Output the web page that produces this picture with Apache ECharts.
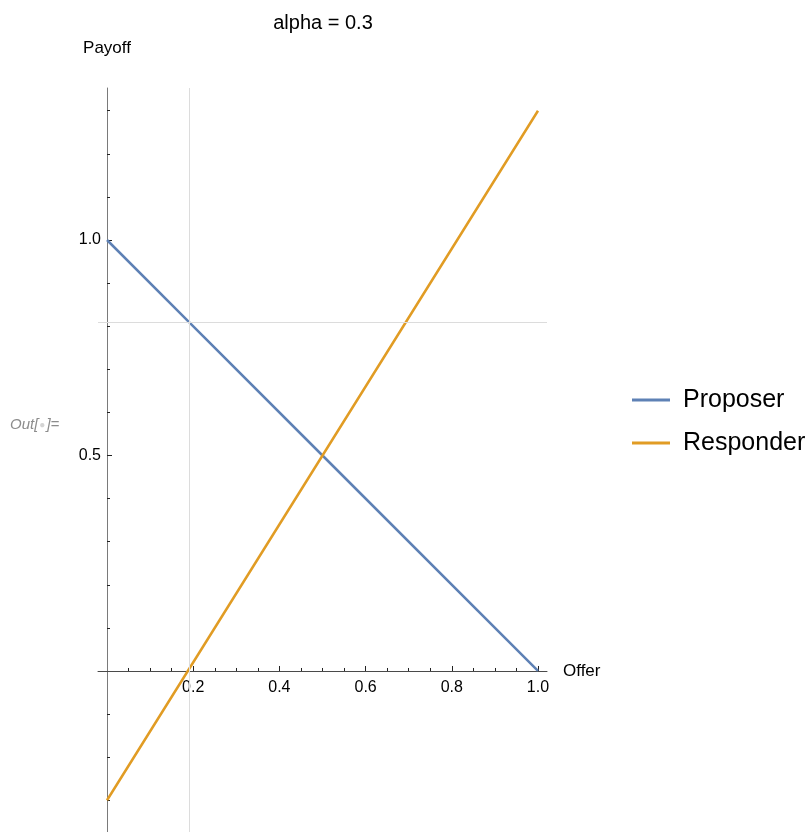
<!DOCTYPE html>
<html>
<head>
<meta charset="utf-8">
<title>alpha = 0.3</title>
<script src="https://cdn.jsdelivr.net/npm/echarts@6/dist/echarts.min.js"></script>
<style>
  html, body { margin: 0; padding: 0; background: #fff; }
  #chart { width: 809px; height: 832px; }
</style>
</head>
<body>
<div id="chart"></div>
<script>
// Payoffs in the ultimatum game with inequity aversion, alpha = 0.3
const offers = [0, 0.1875, 0.5, 1];
const proposerPayoff = [1, 0.8125, 0.5, 0];
const responderPayoff = [-0.3, 0, 0.5, 1.3];

// Reference guides: responder's break-even offer and the proposer's payoff there
const guideX = [0.1875];
const guideY = [0.8125];

// Tick positions and labels
const xMajorTicks = [0.2, 0.4, 0.6, 0.8, 1.0];
const xMinorTicks = [0.05, 0.1, 0.15, 0.25, 0.3, 0.35, 0.45, 0.5, 0.55, 0.65, 0.7, 0.75, 0.85, 0.9, 0.95];
const yMajorTicks = [0.5, 1.0];
const yMinorTicks = [-0.3, -0.2, -0.1, 0.1, 0.2, 0.3, 0.4, 0.6, 0.7, 0.8, 0.9, 1.1, 1.2, 1.3];

const xRange = [-0.0209, 1.0209];
const yRange = [-0.3736, 1.3527];

// Plot area in pixels
const W = 809, H = 832;
const G = { left: 98, right: 262, top: 88, bottom: 0 };
const gridW = W - G.left - G.right;
const gridH = H - G.top - G.bottom;

// Axes cross at the origin: shift them inward from the grid edges
const xAxisOffset = -((0 - yRange[0]) / (yRange[1] - yRange[0])) * gridH;
const yAxisOffset = -((0 - xRange[0]) / (xRange[1] - xRange[0])) * gridW;

const FONT = '"Liberation Sans", Arial, Helvetica, sans-serif';
const TICK_COLOR = '#222';

const toPairs = (xs, ys) => xs.map((x, i) => [x, ys[i]]);
const fmt = v => Number(v).toFixed(1);

const chart = echarts.init(document.getElementById('chart'), null, { renderer: 'canvas' });

chart.setOption({
  backgroundColor: '#fff',
  animation: false,
  textStyle: { fontFamily: FONT },
  grid: { left: G.left, right: G.right, top: G.top, bottom: G.bottom, outerBoundsMode: 'none' },
  graphic: [
    {
      type: 'text', x: 323, y: 23,
      style: { text: 'alpha = 0.3', font: '20px ' + FONT, fill: '#000', align: 'center', verticalAlign: 'middle' }
    },
    {
      type: 'text', x: 10, y: 425,
      style: {
        text: '{a|Out[}{b|●}{a|]=}',
        verticalAlign: 'middle',
        rich: {
          a: { fontSize: 15, fontStyle: 'italic', fontFamily: FONT, fill: '#8c8c8c' },
          b: { fontSize: 10, fontFamily: FONT, fill: '#d4d4d4', padding: [0, 1, 0, 1] }
        }
      }
    }
  ],
  legend: {
    orient: 'vertical',
    left: 632,
    top: 386,
    padding: 0,
    itemWidth: 38,
    itemHeight: 3,
    itemGap: 15,
    icon: 'rect',
    data: ['Proposer', 'Responder'],
    textStyle: { fontSize: 25, lineHeight: 28, color: '#000', fontFamily: FONT, padding: [0, 0, 0, 8] }
  },
  xAxis: [
    {
      type: 'value', position: 'bottom', offset: xAxisOffset, min: xRange[0], max: xRange[1],
      name: 'Offer', nameLocation: 'end', nameGap: 16,
      nameTextStyle: { fontSize: 17, color: '#000', fontFamily: FONT },
      axisLine: { onZero: false, lineStyle: { color: '#4a4a4a', width: 1 } },
      axisTick: { show: true, inside: true, length: 5, customValues: xMajorTicks, lineStyle: { color: TICK_COLOR } },
      axisLabel: { customValues: xMajorTicks, formatter: fmt, fontSize: 16, color: '#000', margin: 9, fontFamily: FONT },
      splitLine: { show: false }
    },
    {
      type: 'value', position: 'bottom', offset: xAxisOffset, min: xRange[0], max: xRange[1],
      axisLine: { show: false, onZero: false },
      axisTick: { show: true, inside: true, length: 3, customValues: xMinorTicks, lineStyle: { color: TICK_COLOR } },
      axisLabel: { show: false },
      splitLine: { show: false }
    }
  ],
  yAxis: [
    {
      type: 'value', position: 'left', offset: yAxisOffset, min: yRange[0], max: yRange[1],
      name: 'Payoff', nameLocation: 'end', nameGap: 31,
      nameTextStyle: { fontSize: 17, color: '#000', fontFamily: FONT, align: 'center' },
      axisLine: { onZero: false, lineStyle: { color: '#7a7a7a', width: 1 } },
      axisTick: { show: true, inside: true, length: 5, customValues: yMajorTicks, lineStyle: { color: TICK_COLOR } },
      axisLabel: { customValues: yMajorTicks, formatter: fmt, fontSize: 16, color: '#000', margin: 6, fontFamily: FONT },
      splitLine: { show: false }
    },
    {
      type: 'value', position: 'left', offset: yAxisOffset, min: yRange[0], max: yRange[1],
      axisLine: { show: false, onZero: false },
      axisTick: { show: true, inside: true, length: 3, customValues: yMinorTicks, lineStyle: { color: TICK_COLOR } },
      axisLabel: { show: false },
      splitLine: { show: false }
    }
  ],
  series: [
    {
      name: 'guides', type: 'line', data: [], z: 1, silent: true,
      markLine: {
        silent: true, symbol: 'none', animation: false,
        label: { show: false },
        lineStyle: { color: '#dcdcdc', width: 1, type: 'solid' },
        data: guideX.map(v => ({ xAxis: v })).concat(guideY.map(v => ({ yAxis: v })))
      }
    },
    {
      name: 'Proposer', type: 'line', z: 3,
      data: toPairs(offers, proposerPayoff),
      showSymbol: false, symbol: 'none',
      lineStyle: { color: '#5E81B5', width: 2.5 },
      itemStyle: { color: '#5E81B5' }
    },
    {
      name: 'Responder', type: 'line', z: 4,
      data: toPairs(offers, responderPayoff),
      showSymbol: false, symbol: 'none',
      lineStyle: { color: '#E19C24', width: 2.5 },
      itemStyle: { color: '#E19C24' }
    }
  ]
});
</script>
</body>
</html>
